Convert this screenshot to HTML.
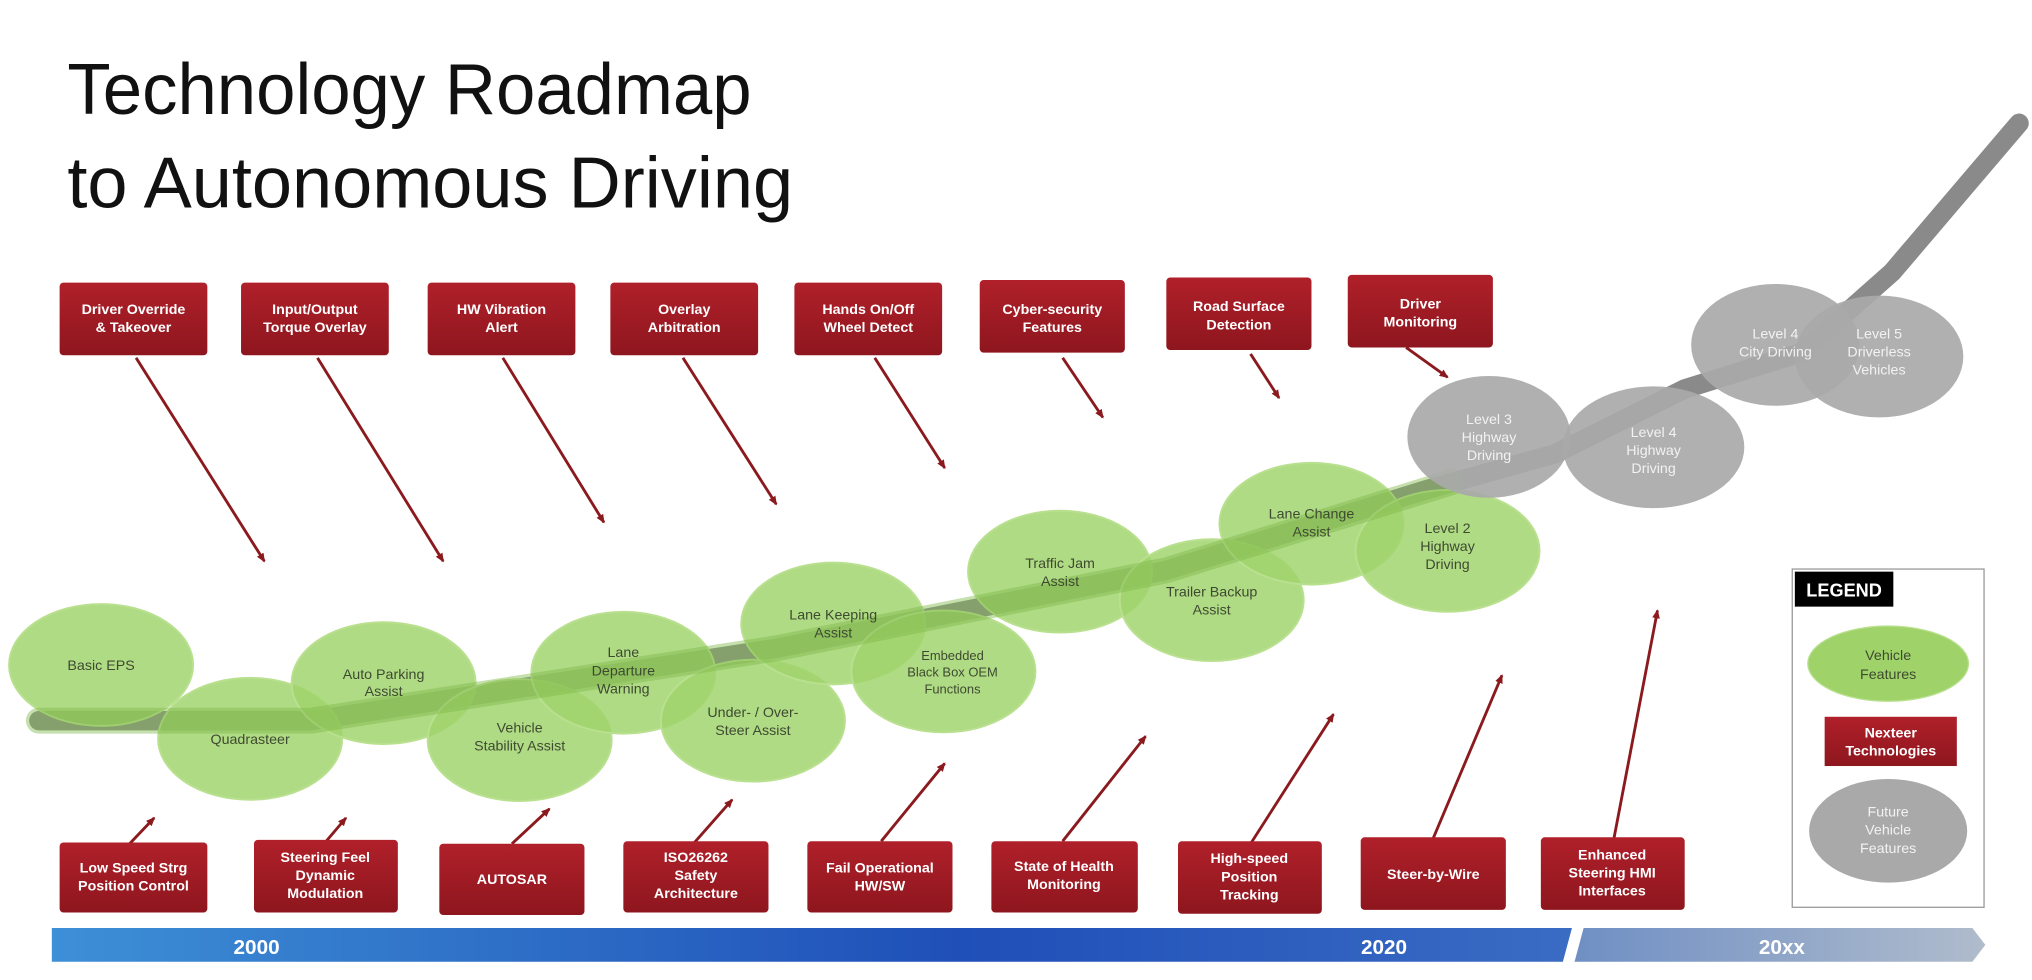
<!DOCTYPE html>
<html><head><meta charset="utf-8"><style>
html,body{margin:0;padding:0;background:#fff;}
svg{display:block;}
text{font-family:"Liberation Sans",Arial,sans-serif;}
.w{fill:#fff;font-weight:bold;font-size:11px;text-anchor:middle;}
.g{fill:#3e4a30;font-size:11px;text-anchor:middle;}
.gw{fill:#f2f2f2;font-size:11px;text-anchor:middle;}
</style></head><body>
<svg width="2032" height="980" viewBox="0 0 1568 756" xmlns="http://www.w3.org/2000/svg">
<defs>
<marker id="ah" markerWidth="8" markerHeight="8" refX="6" refY="4" orient="auto" markerUnits="userSpaceOnUse"><path d="M0,1 L7,4 L0,7 z" fill="#8b1a1e"/></marker>
<linearGradient id="bl" x1="0" x2="1"><stop offset="0" stop-color="#3d8fd6"/><stop offset="0.6" stop-color="#1f4fb8"/><stop offset="1" stop-color="#3a6cc4"/></linearGradient>
<linearGradient id="bl2" x1="0" x2="1"><stop offset="0" stop-color="#6f8fc4"/><stop offset="1" stop-color="#b0bccc"/></linearGradient>
<linearGradient id="rd" x1="0" y1="0" x2="0" y2="1"><stop offset="0" stop-color="#b0202a"/><stop offset="1" stop-color="#8e161e"/></linearGradient>
</defs>

<text x="52" y="88" font-size="56" textLength="528" lengthAdjust="spacingAndGlyphs" fill="#111">Technology Roadmap</text>
<text x="52" y="160" font-size="56" textLength="560" lengthAdjust="spacingAndGlyphs" fill="#111">to Autonomous Driving</text>

<!-- road -->
<path d="M30,556 L240,556 L600,500 L900,440 L1100,378 L1200,350 L1300,300 L1390,272 L1460,210 L1558,95" fill="none" stroke="#8a8a8a" stroke-width="15" stroke-linecap="round" stroke-linejoin="round"/>

<!-- green ellipses -->
<g fill="#9fd36a" fill-opacity="0.82" stroke="#b9e08f" stroke-width="1.5">
<ellipse cx="78" cy="513" rx="71" ry="47"/>
<ellipse cx="193" cy="570" rx="71" ry="47"/>
<ellipse cx="296" cy="527" rx="71" ry="47"/>
<ellipse cx="401" cy="571" rx="71" ry="47"/>
<ellipse cx="481" cy="519" rx="71" ry="47"/>
<ellipse cx="581" cy="556" rx="71" ry="47"/>
<ellipse cx="643" cy="481" rx="71" ry="47"/>
<ellipse cx="728" cy="518" rx="71" ry="47"/>
<ellipse cx="818" cy="441" rx="71" ry="47"/>
<ellipse cx="935" cy="463" rx="71" ry="47"/>
<ellipse cx="1012" cy="404" rx="71" ry="47"/>
<ellipse cx="1117" cy="425" rx="71" ry="47"/>
</g>
<path d="M30,556 L240,556 L600,500 L900,440 L1120,372" fill="none" stroke="#7fb84a" stroke-opacity="0.45" stroke-width="20" stroke-linecap="round"/>
<g fill="#a9a9a9" fill-opacity="0.92">
<ellipse cx="1149" cy="337" rx="63" ry="47"/>
<ellipse cx="1276" cy="345" rx="70" ry="47"/>
<ellipse cx="1370" cy="266" rx="65" ry="47"/>
<ellipse cx="1450" cy="275" rx="65" ry="47"/>
</g>

<g class="g">
<text x="78" y="517">Basic EPS</text>
<text x="193" y="574">Quadrasteer</text>
<text x="296" y="524">Auto Parking</text><text x="296" y="537">Assist</text>
<text x="401" y="565">Vehicle</text><text x="401" y="579">Stability Assist</text>
<text x="481" y="507">Lane</text><text x="481" y="521">Departure</text><text x="481" y="535">Warning</text>
<text x="581" y="553">Under- / Over-</text><text x="581" y="567">Steer Assist</text>
<text x="643" y="478">Lane Keeping</text><text x="643" y="492">Assist</text>
<text x="735" y="509" font-size="10">Embedded</text><text x="735" y="522" font-size="10">Black Box OEM</text><text x="735" y="535" font-size="10">Functions</text>
<text x="818" y="438">Traffic Jam</text><text x="818" y="452">Assist</text>
<text x="935" y="460">Trailer Backup</text><text x="935" y="474">Assist</text>
<text x="1012" y="400">Lane Change</text><text x="1012" y="414">Assist</text>
<text x="1117" y="411">Level 2</text><text x="1117" y="425">Highway</text><text x="1117" y="439">Driving</text>
</g>
<g class="gw">
<text x="1149" y="327">Level 3</text><text x="1149" y="341">Highway</text><text x="1149" y="355">Driving</text>
<text x="1276" y="337">Level 4</text><text x="1276" y="351">Highway</text><text x="1276" y="365">Driving</text>
<text x="1370" y="261">Level 4</text><text x="1370" y="275">City Driving</text>
<text x="1450" y="261">Level 5</text><text x="1450" y="275">Driverless</text><text x="1450" y="289">Vehicles</text>
</g>

<!-- arrows -->
<g stroke="#8b1a1e" stroke-width="2.2" marker-end="url(#ah)">
<line x1="105" y1="276" x2="204" y2="433"/>
<line x1="245" y1="276" x2="342" y2="433"/>
<line x1="388" y1="276" x2="466" y2="403"/>
<line x1="527" y1="276" x2="599" y2="389"/>
<line x1="675" y1="276" x2="729" y2="361"/>
<line x1="820" y1="276" x2="851" y2="322"/>
<line x1="965" y1="273" x2="987" y2="307"/>
<line x1="1085" y1="268" x2="1117" y2="291"/>
<line x1="100" y1="651" x2="119" y2="631"/>
<line x1="250" y1="651" x2="267" y2="631"/>
<line x1="395" y1="651" x2="424" y2="624"/>
<line x1="535" y1="651" x2="565" y2="617"/>
<line x1="680" y1="649" x2="729" y2="589"/>
<line x1="820" y1="649" x2="884" y2="568"/>
<line x1="965" y1="651" x2="1029" y2="551"/>
<line x1="1105" y1="649" x2="1159" y2="521"/>
<line x1="1245" y1="649" x2="1279" y2="471"/>
</g>

<!-- top boxes -->
<g fill="url(#rd)">
<rect x="46" y="218" width="114" height="56" rx="3"/>
<rect x="186" y="218" width="114" height="56" rx="3"/>
<rect x="330" y="218" width="114" height="56" rx="3"/>
<rect x="471" y="218" width="114" height="56" rx="3"/>
<rect x="613" y="218" width="114" height="56" rx="3"/>
<rect x="756" y="216" width="112" height="56" rx="3"/>
<rect x="900" y="214" width="112" height="56" rx="3"/>
<rect x="1040" y="212" width="112" height="56" rx="3"/>
</g>
<g class="w">
<text x="103" y="242">Driver Override</text><text x="103" y="256">&amp; Takeover</text>
<text x="243" y="242">Input/Output</text><text x="243" y="256">Torque Overlay</text>
<text x="387" y="242">HW Vibration</text><text x="387" y="256">Alert</text>
<text x="528" y="242">Overlay</text><text x="528" y="256">Arbitration</text>
<text x="670" y="242">Hands On/Off</text><text x="670" y="256">Wheel Detect</text>
<text x="812" y="242">Cyber-security</text><text x="812" y="256">Features</text>
<text x="956" y="240">Road Surface</text><text x="956" y="254">Detection</text>
<text x="1096" y="238">Driver</text><text x="1096" y="252">Monitoring</text>
</g>

<!-- bottom boxes -->
<g fill="url(#rd)">
<rect x="46" y="650" width="114" height="54" rx="3"/>
<rect x="196" y="648" width="111" height="56" rx="3"/>
<rect x="339" y="651" width="112" height="55" rx="3"/>
<rect x="481" y="649" width="112" height="55" rx="3"/>
<rect x="623" y="649" width="112" height="55" rx="3"/>
<rect x="765" y="649" width="113" height="55" rx="3"/>
<rect x="909" y="649" width="111" height="56" rx="3"/>
<rect x="1050" y="646" width="112" height="56" rx="3"/>
<rect x="1189" y="646" width="111" height="56" rx="3"/>
</g>
<g class="w">
<text x="103" y="673">Low Speed Strg</text><text x="103" y="687">Position Control</text>
<text x="251" y="665">Steering Feel</text><text x="251" y="679">Dynamic</text><text x="251" y="693">Modulation</text>
<text x="395" y="682">AUTOSAR</text>
<text x="537" y="665">ISO26262</text><text x="537" y="679">Safety</text><text x="537" y="693">Architecture</text>
<text x="679" y="673">Fail Operational</text><text x="679" y="687">HW/SW</text>
<text x="821" y="672">State of Health</text><text x="821" y="686">Monitoring</text>
<text x="964" y="666">High-speed</text><text x="964" y="680">Position</text><text x="964" y="694">Tracking</text>
<text x="1106" y="678">Steer-by-Wire</text>
<text x="1244" y="663">Enhanced</text><text x="1244" y="677">Steering HMI</text><text x="1244" y="691">Interfaces</text>
</g>

<!-- timeline -->
<polygon points="40,716 1213,716 1206,742 40,742" fill="url(#bl)"/>
<polygon points="1222,716 1522,716 1532,729 1522,742 1215,742" fill="url(#bl2)"/>
<text x="198" y="736" font-size="16" font-weight="bold" fill="#fff" text-anchor="middle">2000</text>
<text x="1068" y="736" font-size="16" font-weight="bold" fill="#fff" text-anchor="middle">2020</text>
<text x="1375" y="736" font-size="16" font-weight="bold" fill="#fff" text-anchor="middle">20xx</text>

<!-- legend -->
<rect x="1383" y="439" width="148" height="261" fill="#fff" stroke="#999" stroke-width="1"/>
<rect x="1385" y="441" width="76" height="27" fill="#000"/>
<text x="1423" y="460" font-size="14" font-weight="bold" fill="#fff" text-anchor="middle">LEGEND</text>
<ellipse cx="1457" cy="512" rx="62" ry="29" fill="#9fd36a" stroke="#b9e08f"/>
<text x="1457" y="509" class="g" font-size="12">Vehicle</text><text x="1457" y="524" class="g" font-size="12">Features</text>
<rect x="1408" y="553" width="102" height="38" fill="url(#rd)"/>
<text x="1459" y="569" class="w">Nexteer</text><text x="1459" y="583" class="w">Technologies</text>
<ellipse cx="1457" cy="641" rx="61" ry="40" fill="#a9a9a9"/>
<text x="1457" y="630" class="gw">Future</text><text x="1457" y="644" class="gw">Vehicle</text><text x="1457" y="658" class="gw">Features</text>
</svg>
</body></html>
